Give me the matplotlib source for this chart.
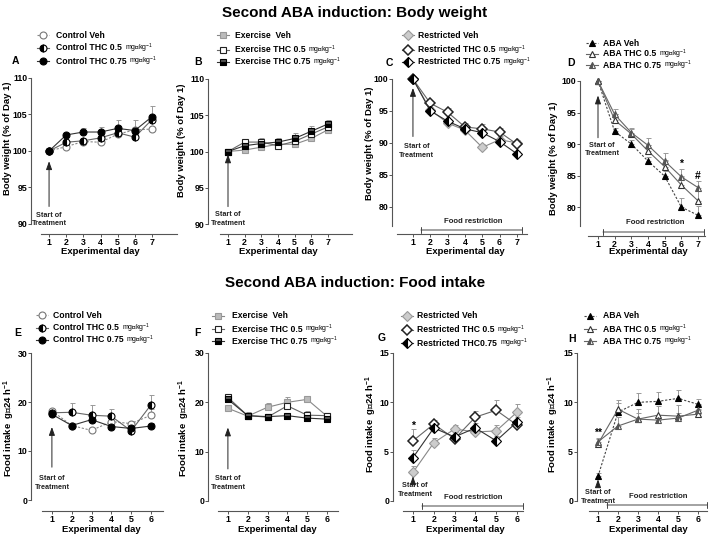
import numpy as np
import matplotlib
import matplotlib.pyplot as plt
from matplotlib.lines import Line2D
from matplotlib.transforms import blended_transform_factory

plt.rcParams['font.family'] = ['Liberation Sans', 'DejaVu Sans']
plt.rcParams['font.weight'] = 'bold'
plt.rcParams['mathtext.fontset'] = 'custom'
plt.rcParams['mathtext.rm'] = 'Liberation Sans'
plt.rcParams['mathtext.default'] = 'regular'

# ---------------- data ----------------
days_bw = [1, 2, 3, 4, 5, 6, 7]
days_fi = [1, 2, 3, 4, 5, 6]

# body weight (% of day 1)
ctrl_bw_veh = [100, 100.6, 101.3, 101.2, 102.3, 102.9, 103.0]
ctrl_bw_05 = [100, 101.2, 101.4, 101.8, 102.5, 101.9, 104.3]
ctrl_bw_075 = [100, 102.2, 102.6, 102.6, 103.1, 102.8, 104.7]
ctrl_bw_veh_err = [0, 0.3, 0.3, 0.3, 0.3, 0.4, 0.3]
ctrl_bw_05_err = [0, 0.3, 0.4, 0.4, 0.4, 0.4, 0.4]
ctrl_bw_075_err = [0, 0.3, 0.6, 0.7, 1.1, 1.5, 1.4]

exer_bw_veh = [100, 100.2, 100.6, 101.0, 101.0, 101.8, 103.0]
exer_bw_05 = [100, 101.3, 101.3, 100.8, 101.4, 102.4, 103.4]
exer_bw_075 = [100, 100.8, 101.1, 101.3, 101.8, 102.8, 103.8]
exer_bw_veh_err = [0, 0.3, 0.4, 0.4, 0.4, 0.4, 0.4]
exer_bw_05_err = [0, 0.3, 0.5, 0.4, 0.6, 0.6, 0.5]
exer_bw_075_err = [0, 0.3, 0.6, 0.6, 0.8, 0.7, 0.5]

rest_bw_veh = [100, 95.2, 93.1, 92.0, 89.3, 90.5, 90.0]
rest_bw_05 = [100, 96.2, 94.8, 92.5, 92.2, 91.7, 89.8]
rest_bw_075 = [100, 95.0, 93.4, 92.2, 91.6, 90.2, 88.3]
rest_bw_veh_err = [0, 0.4, 0.4, 0.5, 0.5, 0.6, 0.4]
rest_bw_05_err = [0, 0.4, 0.6, 0.6, 0.8, 0.7, 0.5]
rest_bw_075_err = [0, 0.4, 0.4, 0.5, 0.5, 0.6, 0.4]

aba_bw_veh = [100, 92.0, 90.0, 87.3, 84.9, 80.0, 78.7]
aba_bw_05 = [100, 93.8, 91.6, 88.9, 86.4, 83.5, 81.0]
aba_bw_075 = [100, 94.7, 91.8, 89.8, 87.3, 84.8, 83.1]
aba_bw_veh_err = [0, 0.5, 0.6, 0.6, 0.8, 1.5, 1.4]
aba_bw_05_err = [0, 0.9, 0.8, 0.9, 1.1, 1.4, 1.5]
aba_bw_075_err = [0, 0.9, 0.7, 1.1, 1.3, 1.2, 1.1]

# food intake (g / 24 h)
ctrl_fi_veh = [18.2, 15.2, 14.2, 16.0, 15.6, 17.3]
ctrl_fi_05 = [17.8, 17.9, 17.3, 17.1, 14.1, 19.4]
ctrl_fi_075 = [17.5, 15.2, 16.4, 15.0, 14.6, 15.1]
ctrl_fi_veh_err = [0.4, 0.5, 0.4, 0.8, 0.5, 1.3]
ctrl_fi_05_err = [0.5, 1.8, 2.0, 1.4, 0.6, 2.1]
ctrl_fi_075_err = [0.4, 0.6, 0.9, 0.6, 0.5, 0.6]

exer_fi_veh = [18.8, 17.2, 19.0, 20.0, 20.6, 17.2]
exer_fi_05 = [21.0, 17.3, 17.0, 19.3, 17.4, 17.3]
exer_fi_075 = [20.6, 17.3, 17.1, 17.3, 16.8, 16.6]
exer_fi_veh_err = [0.4, 0.8, 0.9, 1.1, 0.6, 0.5]
exer_fi_05_err = [0.5, 0.6, 0.5, 1.2, 0.8, 0.5]
exer_fi_075_err = [0.4, 0.4, 0.4, 0.4, 0.4, 0.4]

rest_fi_veh = [2.9, 5.9, 7.3, 7.0, 7.1, 9.0]
rest_fi_05 = [6.1, 7.8, 6.3, 8.5, 9.2, 7.7]
rest_fi_075 = [4.4, 7.4, 6.5, 7.4, 6.1, 8.0]
rest_fi_veh_err = [0.6, 0.5, 0.4, 0.5, 0.6, 0.8]
rest_fi_05_err = [1.2, 0.4, 0.4, 0.6, 1.0, 0.5]
rest_fi_075_err = [0.8, 0.4, 0.5, 0.5, 0.5, 0.5]

aba_fi_veh = [2.5, 9.0, 10.0, 10.1, 10.4, 9.8]
aba_fi_05 = [5.8, 9.3, 8.3, 8.7, 8.6, 8.8]
aba_fi_075 = [6.0, 7.6, 8.3, 8.2, 8.4, 9.2]
aba_fi_veh_err = [0.3, 0.9, 0.9, 0.9, 0.8, 0.5]
aba_fi_05_err = [0.5, 0.9, 1.0, 0.9, 1.1, 0.5]
aba_fi_075_err = [0.4, 0.9, 0.6, 0.5, 0.5, 0.5]

unit = r'mg$\cdot$kg$^{-1}$'
labels_ctrl = [('Control Veh', ''), ('Control THC 0.5', unit), ('Control THC 0.75', unit)]
labels_exer = [('Exercise  Veh', ''), ('Exercise THC 0.5', unit), ('Exercise THC 0.75', unit)]
labels_rest = [('Restricted Veh', ''), ('Restricted THC 0.5', unit), ('Restricted THC 0.75', unit)]
labels_rest_fi = [('Restricted Veh', ''), ('Restricted THC 0.5', unit), ('Restricted THC0.75', unit)]
labels_aba = [('ABA Veh', ''), ('ABA THC 0.5', unit), ('ABA THC 0.75', unit)]

# ---------------- styles ----------------
GL = '#666666'
sty_ctrl = [dict(marker='o', mfc='white', mec='#777777', ls=(0, (2, 1.5)), color='#888888'),
            dict(marker='o', mfc='black', mec='black', fillstyle='left', markerfacecoloralt='white', ls='-', color=GL),
            dict(marker='o', mfc='black', mec='black', ls='-', color='#333333')]
sty_exer = [dict(marker='s', mfc='#bbbbbb', mec='#999999', ls='-', color='#888888'),
            dict(marker='s', mfc='white', mec='#222222', ls='-', color=GL),
            dict(marker='s', mfc='black', mec='black', fillstyle='bottom', markerfacecoloralt='#555555', ls='-', color='#333333')]
sty_rest = [dict(marker='D', mfc='#cccccc', mec='#999999', ls='-', color='#888888', ms=5.5),
            dict(marker='D', mfc='white', mec='#222222', ls='-', color=GL, mew=1.1, ms=5.5),
            dict(marker='D', mfc='black', mec='black', fillstyle='left', markerfacecoloralt='white', ls='-', color='#333333', ms=5.5)]
sty_aba = [dict(marker='^', mfc='black', mec='black', ls=(0, (2, 1.5)), color='#444444'),
           dict(marker='^', mfc='white', mec='#333333', ls='-', color=GL),
           dict(marker='^', mfc='#555555', mec='#555555', fillstyle='left', markerfacecoloralt='white', ls='-', color=GL)]

W, H = 709, 537
fig = plt.figure(figsize=(W / 100, H / 100), dpi=100)


def rect(x0, x1, y0, y1):
    return [x0 / W, 1 - y1 / H, (x1 - x0) / W, (y1 - y0) / H]


def fy(py):
    return 1 - py / H


panels = [
    dict(letter='A', x=days_bw, ys=[ctrl_bw_veh, ctrl_bw_05, ctrl_bw_075],
         es=[ctrl_bw_veh_err, ctrl_bw_05_err, ctrl_bw_075_err], sty=sty_ctrl, labs=labels_ctrl,
         box=(41, 177, 78, 224), xlim=(0.53, 8.46), ylim=(90, 110), yt=[90, 95, 100, 105, 110],
         loff=10, boff=10, ylab=(8, 138), xlab=251, letpos=(15, 61),
         leg=(43, 56, [35, 48, 61]), start=(1.0, 98.6, 92.4, 91.7)),
    dict(letter='B', x=days_bw, ys=[exer_bw_veh, exer_bw_05, exer_bw_075],
         es=[exer_bw_veh_err, exer_bw_05_err, exer_bw_075_err], sty=sty_exer, labs=labels_exer,
         box=(220, 352, 79, 224), xlim=(0.52, 8.44), ylim=(90, 110), yt=[90, 95, 100, 105, 110],
         loff=12, boff=10, ylab=(182, 140), xlab=251, letpos=(198, 62),
         leg=(223, 235, [35, 50, 62]), start=(1.0, 99.6, 92.4, 91.8)),
    dict(letter='C', x=days_bw, ys=[rest_bw_veh, rest_bw_05, rest_bw_075],
         es=[rest_bw_veh_err, rest_bw_05_err, rest_bw_075_err], sty=sty_rest, labs=labels_rest,
         box=(397, 527, 79, 226), xlim=(0.08, 7.58), ylim=(77, 100), yt=[80, 85, 90, 95, 100],
         loff=5, boff=8, ylab=(369, 143), xlab=251, letpos=(389, 63),
         leg=(408, 418, [35, 50, 62]), start=(1.2, 98.6, 91.0, 90.0),
         food=(1.46, 7.29, 230, 4.46, 225)),
    dict(letter='D', x=days_bw, ys=[aba_bw_veh, aba_bw_05, aba_bw_075],
         es=[aba_bw_veh_err, aba_bw_05_err, aba_bw_075_err], sty=sty_aba, labs=labels_aba,
         box=(588, 705, 81, 226), xlim=(0.4, 7.42), ylim=(77, 100), yt=[80, 85, 90, 95, 100],
         loff=8, boff=10, ylab=(554, 158), xlab=252, letpos=(571, 63),
         leg=(592, 603, [43, 54, 65]), start=(1.25, 97.7, 91.0, 90.4),
         food=(1.3, 7.36, 232, 4.42, 226), sig=[(6, 86.8, '*'), (7, 84.9, '#')]),
    dict(letter='E', x=days_fi, ys=[ctrl_fi_veh, ctrl_fi_05, ctrl_fi_075],
         es=[ctrl_fi_veh_err, ctrl_fi_05_err, ctrl_fi_075_err], sty=sty_ctrl, labs=labels_ctrl,
         box=(42, 163, 353, 500), xlim=(0.5, 6.61), ylim=(0, 30), yt=[0, 10, 20, 30],
         loff=11, boff=11, ylab=(9, 428), xlab=529, letpos=(18, 333),
         leg=(42, 53, [315, 328, 340]), start=(1.0, 14.9, 6.7, 5.0)),
    dict(letter='F', x=days_fi, ys=[exer_fi_veh, exer_fi_05, exer_fi_075],
         es=[exer_fi_veh_err, exer_fi_05_err, exer_fi_075_err], sty=sty_exer, labs=labels_exer,
         box=(218, 338, 353, 501), xlim=(0.5, 6.56), ylim=(0, 30), yt=[0, 10, 20, 30],
         loff=10, boff=10, ylab=(184, 428), xlab=529, letpos=(197, 333),
         leg=(218, 232, [316, 329, 341]), start=(1.0, 14.9, 6.5, 5.2)),
    dict(letter='G', x=days_fi, ys=[rest_fi_veh, rest_fi_05, rest_fi_075],
         es=[rest_fi_veh_err, rest_fi_05_err, rest_fi_075_err], sty=sty_rest, labs=labels_rest_fi,
         box=(403, 523, 353, 501), xlim=(0.52, 6.29), ylim=(0, 15), yt=[0, 5, 10, 15],
         loff=10, boff=10, ylab=(371, 424), xlab=529, letpos=(382, 338),
         leg=(407, 417, [316, 330, 343]), start=(1.1, 2.5, 2.0, 1.95),
         food=(1.43, 6.29, 506, 3.88, 501), sig=[(1, 7.6, '*')]),
    dict(letter='H', x=days_fi, ys=[aba_fi_veh, aba_fi_05, aba_fi_075],
         es=[aba_fi_veh_err, aba_fi_05_err, aba_fi_075_err], sty=sty_aba, labs=labels_aba,
         box=(589, 707, 353, 501), xlim=(0.55, 6.45), ylim=(0, 15), yt=[0, 5, 10, 15],
         loff=12, boff=10, ylab=(553, 424), xlab=529, letpos=(572, 339),
         leg=(590, 603, [316, 329, 341]), start=(1.0, 2.2, 1.5, 1.2),
         food=(1.45, 6.45, 505, 4.0, 500), sig=[(1, 6.9, '**')]),
]

for p in panels:
    x0, x1, y0, y1 = p['box']
    ax = fig.add_axes(rect(x0, x1, y0, y1))
    ax.set_xlim(*p['xlim'])
    ax.set_ylim(*p['ylim'])
    for s in ['top', 'right']:
        ax.spines[s].set_visible(False)
    for s in ['left', 'bottom']:
        ax.spines[s].set_color('#555555')
        ax.spines[s].set_linewidth(0.8)
    ax.spines['left'].set_position(('outward', p['loff'] * 0.72))
    ax.spines['bottom'].set_position(('outward', p['boff'] * 0.72))
    ax.set_xticks(p['x'])
    ax.set_yticks(p['yt'])
    ax.tick_params(direction='out', length=2, width=0.7, color='#555555', labelsize=6.3, pad=0.8)
    for t in ax.get_xticklabels() + ax.get_yticklabels():
        t.set_fontweight('bold')

    # ylabel
    if p['letter'] in 'ABCD':
        ax.set_ylabel('Body weight (% of Day 1)', fontsize=6.8, fontweight='bold')
    else:
        ax.set_ylabel(r'Food intake  g$\cdot$24 h$^{-1}$', fontsize=6.8, fontweight='bold')
    ax.yaxis.label.set_va('center')
    lx, ly = p['ylab']
    ax.yaxis.set_label_coords((lx - x0) / (x1 - x0), (y1 - ly) / (y1 - y0))
    # xlabel
    ax.set_xlabel('Experimental day', fontsize=6.8, fontweight='bold')
    xc = (min(p['x']) + max(p['x'])) / 2
    xa = (xc - p['xlim'][0]) / (p['xlim'][1] - p['xlim'][0])
    ax.xaxis.set_label_coords(xa, (y1 - p['xlab']) / (y1 - y0))
    ax.xaxis.label.set_va('center')

    # series
    for yv, ev, st in zip(p['ys'], p['es'], p['sty']):
        st = dict(st)
        col = st.pop('color')
        st.setdefault('mew', 0.8)
        st.setdefault('ms', 5)
        ax.errorbar(p['x'], yv, yerr=[np.zeros(len(ev)), ev], fmt='none', ecolor='#999999',
                    elinewidth=0.7, capsize=1.8, capthick=0.7, zorder=2, clip_on=False)
        ax.plot(p['x'], yv, color=col, lw=0.8, zorder=3, clip_on=False, **st)

    # start of treatment arrow
    sx, tip, tail, ttop = p['start']
    ax.annotate('', xy=(1, tip), xytext=(1, tail),
                arrowprops=dict(arrowstyle='-|>,head_length=0.5,head_width=0.18', color='#222222', lw=0.7,
                                shrinkA=0, shrinkB=0), annotation_clip=False)
    ax.text(sx, ttop, 'Start of\nTreatment', ha='center', va='top', fontsize=5.2, fontweight='bold',
            linespacing=1.35, color='#222222', clip_on=False)

    # food restriction bracket
    if 'food' in p:
        bx0, bx1, by, tx, ty = p['food']
        tr = blended_transform_factory(ax.transData, fig.transFigure)
        ax.annotate('', xy=(bx0, fy(by)), xytext=(bx1, fy(by)), xycoords=tr, textcoords=tr,
                    arrowprops=dict(arrowstyle='|-|,widthA=0.2,widthB=0.2', color='#444444', lw=0.7,
                                    shrinkA=0, shrinkB=0), annotation_clip=False)
        ax.text(tx, fy(ty), 'Food restriction', transform=tr, ha='center', va='bottom',
                fontsize=5.6, fontweight='bold', color='#222222')

    for sxv, syv, sym in p.get('sig', []):
        ax.text(sxv, syv, sym, ha='center', va='center', fontsize=7.5, fontweight='bold', clip_on=False)

    # panel letter
    fig.text(p['letpos'][0] / W, fy(p['letpos'][1]), p['letter'], ha='center', va='center',
             fontsize=7.5, fontweight='bold')

    # legend
    mx, tx0, rows = p['leg']
    for (lab, un), st, ry in zip(p['labs'], p['sty'], rows):
        st = dict(st)
        col = st.pop('color')
        st.setdefault('mew', 0.8)
        st.setdefault('ms', 5)
        fig.add_artist(Line2D([(mx - 6) / W, (mx + 6) / W], [fy(ry), fy(ry)], color=col, lw=0.8,
                              ls=st.pop('ls'), transform=fig.transFigure))
        fig.add_artist(Line2D([mx / W], [fy(ry)], ls='none',
                              transform=fig.transFigure, **st))
        t = fig.text(tx0 / W, fy(ry), lab, ha='left', va='center', fontsize=6.2, fontweight='bold')
        if un:
            ax.annotate(un, xy=(1, 0.22), xycoords=t, xytext=(2, 0), textcoords='offset points',
                        ha='left', va='baseline', fontsize=5.0, fontweight='normal', annotation_clip=False)

fig.text(355 / W, fy(13), 'Second ABA induction: Body weight', ha='center', va='center',
         fontsize=11, fontweight='bold')
fig.text(355 / W, fy(283), 'Second ABA induction: Food intake', ha='center', va='center',
         fontsize=11, fontweight='bold')

fig.savefig('out.png', dpi=100)
plt.close()
